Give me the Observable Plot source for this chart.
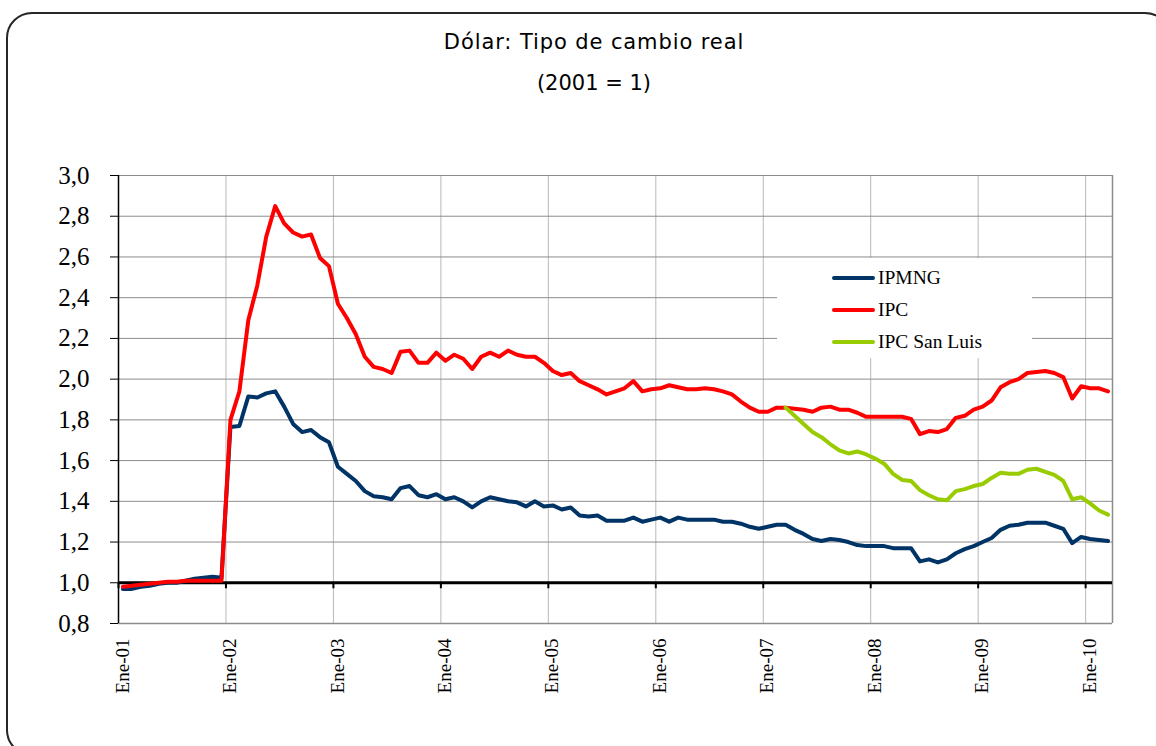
<!DOCTYPE html>
<html><head><meta charset="utf-8">
<script src="https://cdn.jsdelivr.net/npm/d3@7"></script>
<script src="https://cdn.jsdelivr.net/npm/@observablehq/plot@0.6"></script>
<style>
html,body{margin:0;padding:0;background:#fff;}
#wrap{position:relative;width:1156px;height:746px;overflow:hidden;background:#fff;}
#frame{position:absolute;left:6px;top:12px;width:1165px;height:744px;border:2px solid #262626;border-radius:26px;box-sizing:border-box;}
.ttl{position:absolute;left:294px;width:600px;text-align:center;font-family:"Comic Sans MS","DejaVu Sans",sans-serif;font-size:21px;line-height:21px;color:#000;white-space:nowrap;}
#chart{position:absolute;left:0;top:120px;}
#legend{position:absolute;left:777px;top:258px;width:255px;height:100px;background:#fff;}
.row{position:absolute;left:55px;height:24px;display:flex;align-items:center;font-family:"Liberation Serif",serif;font-size:19.5px;color:#000;white-space:nowrap;}
.sw{width:43px;height:4px;border-radius:2px;margin-right:3px;}
</style></head>
<body>
<div id="wrap">
  <div id="frame"></div>
  <div class="ttl" style="top:32px;letter-spacing:0.9px">Dólar: Tipo de cambio real</div>
  <div class="ttl" style="top:73px">(2001 = 1)</div>
  <div id="chart"></div>
  <div id="legend"></div>
</div>
<script>
// ---- data ----
const xTickLabels = ["Ene-01","Ene-02","Ene-03","Ene-04","Ene-05","Ene-06","Ene-07","Ene-08","Ene-09","Ene-10"];
const yTickValues = [0.8,1.0,1.2,1.4,1.6,1.8,2.0,2.2,2.4,2.6,2.8,3.0];
const seriesNames = ["IPMNG","IPC","IPC San Luis"];
const seriesColors = ["#003366","#ff0000","#99cc00"];

// monthly values, Ene-01 .. Mar-10
const ipmng = [
  0.97,0.97,0.98,0.985,0.995,1.00,1.00,1.01,1.02,1.025,1.03,1.025,
  1.765,1.77,1.915,1.91,1.93,1.94,1.865,1.78,1.74,1.75,1.715,1.69,
  1.57,1.535,1.50,1.45,1.425,1.42,1.41,1.465,1.475,1.43,1.42,1.435,
  1.41,1.42,1.40,1.37,1.40,1.42,1.41,1.40,1.395,1.375,1.40,1.375,
  1.38,1.36,1.37,1.33,1.325,1.33,1.305,1.305,1.305,1.32,1.30,1.31,
  1.32,1.30,1.32,1.31,1.31,1.31,1.31,1.30,1.30,1.29,1.275,1.265,
  1.275,1.285,1.285,1.26,1.24,1.215,1.205,1.215,1.21,1.20,1.185,1.18,
  1.18,1.18,1.17,1.17,1.17,1.105,1.115,1.10,1.115,1.145,1.165,1.18,
  1.20,1.22,1.26,1.28,1.285,1.295,1.295,1.295,1.28,1.265,1.195,1.225,
  1.215,1.21,1.205
];
const ipc = [
  0.98,0.985,0.99,0.995,1.00,1.005,1.005,1.01,1.01,1.01,1.01,1.01,
  1.80,1.94,2.29,2.46,2.70,2.85,2.765,2.72,2.70,2.71,2.595,2.555,
  2.37,2.30,2.22,2.11,2.06,2.05,2.03,2.135,2.14,2.08,2.08,2.13,
  2.09,2.12,2.10,2.05,2.11,2.13,2.11,2.14,2.12,2.11,2.11,2.08,
  2.04,2.02,2.03,1.99,1.97,1.95,1.925,1.94,1.955,1.99,1.94,1.95,
  1.955,1.97,1.96,1.95,1.95,1.955,1.95,1.94,1.925,1.89,1.86,1.84,
  1.84,1.86,1.86,1.855,1.85,1.84,1.86,1.865,1.85,1.85,1.835,1.815,
  1.815,1.815,1.815,1.815,1.805,1.73,1.745,1.74,1.755,1.81,1.82,1.85,
  1.865,1.895,1.96,1.985,2.00,2.03,2.035,2.04,2.03,2.01,1.905,1.965,
  1.955,1.955,1.94
];
// IPC San Luis, from Mar-07 (month index 74) to Mar-10
const sanLuisStart = 74;
const ipcSanLuis = [
  1.86,1.82,1.78,1.74,1.715,1.68,1.65,1.635,1.645,1.63,
  1.61,1.585,1.535,1.505,1.50,1.455,1.43,1.41,1.405,1.45,
  1.46,1.475,1.485,1.515,1.54,1.535,1.535,1.555,1.56,1.545,
  1.53,1.50,1.41,1.42,1.39,1.355,1.335
];

// ---- tables ----
const nMonths = ipc.length;
const rowsOf = (arr, start) => arr.map((v, i) => ({m: start + i + 0.5, v}));
const tables = [rowsOf(ipmng, 0), rowsOf(ipc, 0), rowsOf(ipcSanLuis, sanLuisStart)];
const xTicks = xTickLabels.map((_, k) => k * 12);
const fmt = d => d.toFixed(1).replace(".", ",");

const plot = Plot.plot({
  width: 1156, height: 626,
  marginLeft: 118, marginRight: 44, marginTop: 55, marginBottom: 123,
  x: {domain: [0, nMonths]},
  y: {domain: [0.8, 3.0]},
  style: {fontFamily: "'Liberation Serif', serif", background: "transparent", overflow: "visible", color: "#000"},
  marks: [
    Plot.ruleX(xTicks, {stroke: "#b8b8b8", strokeWidth: 1}),
    Plot.ruleY(yTickValues, {stroke: "#8c8c8c", strokeWidth: 1}),
    Plot.ruleX([nMonths], {stroke: "#8c8c8c", strokeWidth: 1.5}),
    Plot.ruleY([0.8], {stroke: "#8c8c8c", strokeWidth: 1.5}),
    Plot.ruleX([0], {stroke: "#000", strokeWidth: 1.5}),
    Plot.axisY({ticks: yTickValues, tickFormat: fmt, tickSize: 8, tickPadding: 21, fontSize: 25, stroke: "#000", label: null}),
    Plot.axisX({ticks: xTicks, tickFormat: d => xTickLabels[Math.round(d / 12)], tickRotate: -90, tickSize: 0, tickPadding: 15, fontSize: 19, dx: 4, label: null}),
    Plot.ruleY([1.0], {stroke: "#000", strokeWidth: 3}),
    Plot.ruleX(xTicks, {x: d => d, y1: 1.0, y2: 1.0, insetBottom: -6, stroke: "#000", strokeWidth: 2}),
    ...tables.map((t, k) => Plot.line(t, {x: "m", y: "v", stroke: seriesColors[k], strokeWidth: 4, strokeLinejoin: "round", strokeLinecap: "round"}))
  ]
});
document.getElementById("chart").appendChild(plot);

// legend
const lg = document.getElementById("legend");
seriesNames.forEach((name, k) => {
  const r = document.createElement("div");
  r.className = "row";
  r.style.top = (8 + k * 32) + "px";
  const sw = document.createElement("span");
  sw.className = "sw";
  sw.style.background = seriesColors[k];
  r.appendChild(sw);
  r.appendChild(document.createTextNode(name));
  lg.appendChild(r);
});
</script>
</body></html>
